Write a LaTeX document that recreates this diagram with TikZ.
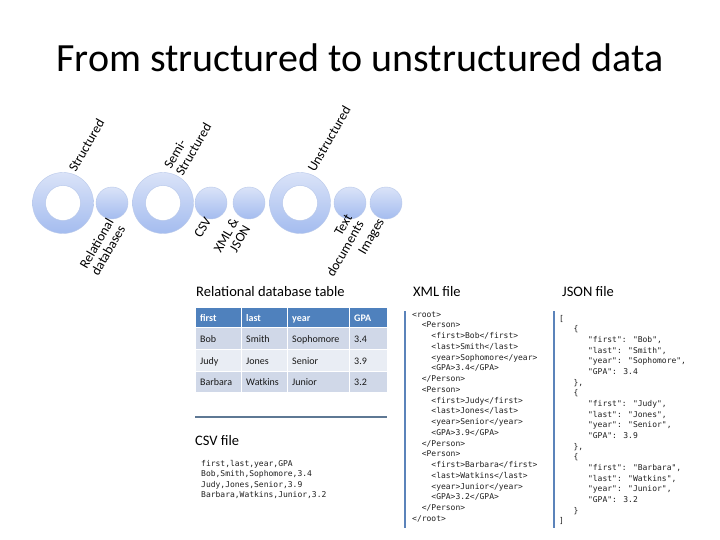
\documentclass[tikz,border=0pt]{standalone}
\usepackage{fontspec}
\setmainfont{Carlito}
\newfontfamily\codefont{DejaVu Sans Mono}
\definecolor{hdrblue}{HTML}{4F81BD}
\definecolor{rowA}{HTML}{D0D8E8}
\definecolor{rowB}{HTML}{E9EDF4}
\definecolor{ctop}{HTML}{DAE3F8}
\definecolor{cbot}{HTML}{A4BCEF}
\definecolor{cedge}{HTML}{B8C8EA}
\definecolor{rulec}{HTML}{5E7894}
\definecolor{barc}{HTML}{5B83BA}
\definecolor{codec}{HTML}{202020}
\newcommand\iA{\phantom{xx}}
\newcommand\iB{\phantom{xxxx}}
\newcommand\jA{\phantom{xxx}}
\newcommand\jB{\phantom{xxxxxx}}
\begin{document}
\begin{tikzpicture}[x=1pt,y=-1pt,
  ringshade/.style={top color=ctop,bottom color=cbot,draw=cedge,line width=0.4pt,even odd rule},
  dotshade/.style={top color=ctop,bottom color=cbot,draw=cedge,line width=0.4pt},
  lbl/.style={font=\fontsize{13.5}{13.5}\selectfont,inner sep=0pt,rotate=60},
  hd/.style={font=\fontsize{14.5}{17}\selectfont,inner sep=0pt,anchor=base west},
  cell/.style={draw=white,line width=1pt},
  ctext/.style={font=\fontsize{10}{12}\selectfont,inner sep=0pt,anchor=base west,text=black!90},
  htext/.style={font=\fontsize{10}{12}\selectfont\bfseries,inner sep=0pt,anchor=base west,text=white},
  code/.style={font=\codefont\fontsize{8}{10}\selectfont,inner sep=0pt,anchor=base west,text=codec},
  bar/.style={draw=barc,line width=2pt}]
\useasboundingbox (0,0) rectangle (720,540);
\fill[white] (0,0) rectangle (720,540);

% title
\node[font=\fontsize{40}{48}\selectfont,inner sep=0pt,anchor=base] (title) at (360,72) {From structured to unstructured data};

% timeline circles
\shade[ringshade] (63,203) circle[radius=30.5pt] (63,203) circle[radius=17.5pt];
\shade[dotshade] (112,203) circle[radius=16pt];
\shade[ringshade] (163,203) circle[radius=30.5pt] (163,203) circle[radius=17.5pt];
\shade[dotshade] (211,203) circle[radius=16pt];
\shade[dotshade] (249,203) circle[radius=16pt];
\shade[ringshade] (300,203) circle[radius=30.5pt] (300,203) circle[radius=17.5pt];
\shade[dotshade] (350,203) circle[radius=16pt];
\shade[dotshade] (386,203) circle[radius=16pt];

% labels above
\node[lbl,anchor=south west] (lstr) at (76,173) {Structured};
\node[lbl,anchor=south west,align=left] (lsemi) at (183,177) {Semi-\\Structured};
\node[lbl,anchor=south west] (lunstr) at (315,173) {Unstructured};
% labels below
\node[lbl,anchor=north east,align=right] (lrel) at (106,217) {Relational\\databases};
\node[lbl,anchor=north east] (lcsv) at (204,216) {CSV};
\node[lbl,anchor=north east,align=right] (lxml) at (231,217) {XML \&\\JSON};
\node[lbl,anchor=north east,align=right] (ltxt) at (345,213) {Text\\documents};
\node[lbl,anchor=north east] (limg) at (377,217) {Images};

% headings
\node[hd] (hrel) at (196,296) {Relational database table};
\node[hd] (hxml) at (413,296) {XML file};
\node[hd] (hjson) at (562,296) {JSON file};
\node[hd] (hcsv) at (195,445) {CSV file};

% table
\foreach \xa/\xb in {195/241,241/287,287/349,349/387}{
  \path[cell,fill=hdrblue] (\xa,307) rectangle (\xb,327);
  \path[cell,fill=rowA] (\xa,327) rectangle (\xb,349);
  \path[cell,fill=rowB] (\xa,349) rectangle (\xb,371);
  \path[cell,fill=rowA] (\xa,371) rectangle (\xb,392);
}
\node[htext] (h1) at (200,321) {first};
\node[htext] (h2) at (246,321) {last};
\node[htext] (h3) at (292,321) {year};
\node[htext] (h4) at (354,321) {GPA};
\node[ctext] (r11) at (200,342) {Bob};
\node[ctext] (r12) at (246,342) {Smith};
\node[ctext] (r13) at (292,342) {Sophomore};
\node[ctext] (r14) at (354,342) {3.4};
\node[ctext] (r21) at (200,364) {Judy};
\node[ctext] (r22) at (246,364) {Jones};
\node[ctext] (r23) at (292,364) {Senior};
\node[ctext] (r24) at (354,364) {3.9};
\node[ctext] (r31) at (200,385) {Barbara};
\node[ctext] (r32) at (246,385) {Watkins};
\node[ctext] (r33) at (292,385) {Junior};
\node[ctext] (r34) at (354,385) {3.2};

% separator rule
\draw[rulec,line width=2.7pt] (195,417) -- (387,417);

% CSV text
\foreach \t [count=\i] in {{first,last,year,GPA},{Bob,Smith,Sophomore,3.4},{Judy,Jones,Senior,3.9},{Barbara,Watkins,Junior,3.2}}
  \node[code] (csv\i) at (201,{466+(\i-1)*10.5}) {\t};

% XML
\draw[bar] (405,311) -- (405,528);
\foreach \t [count=\i] in {
  {<root>},
  {\iA<Person>},
  {\iB<first>Bob</first>},
  {\iB<last>Smith</last>},
  {\iB<year>Sophomore</year>},
  {\iB<GPA>3.4</GPA>},
  {\iA</Person>},
  {\iA<Person>},
  {\iB<first>Judy</first>},
  {\iB<last>Jones</last>},
  {\iB<year>Senior</year>},
  {\iB<GPA>3.9</GPA>},
  {\iA</Person>},
  {\iA<Person>},
  {\iB<first>Barbara</first>},
  {\iB<last>Watkins</last>},
  {\iB<year>Junior</year>},
  {\iB<GPA>3.2</GPA>},
  {\iA</Person>},
  {</root>}}
  \node[code] (xml\i) at (412,{317+(\i-1)*10.75}) {\t};

% JSON
\draw[bar] (554,311) -- (554,528);
\foreach \t [count=\i] in {
  {[},
  {\jA\{},
  {\jB"first": "Bob",},
  {\jB"last": "Smith",},
  {\jB"year": "Sophomore",},
  {\jB"GPA": 3.4},
  {\jA\},},
  {\jA\{},
  {\jB"first": "Judy",},
  {\jB"last": "Jones",},
  {\jB"year": "Senior",},
  {\jB"GPA": 3.9},
  {\jA\},},
  {\jA\{},
  {\jB"first": "Barbara",},
  {\jB"last": "Watkins",},
  {\jB"year": "Junior",},
  {\jB"GPA": 3.2},
  {\jA\}},
  {]}}
  \node[code] (json\i) at (559,{321+(\i-1)*10.68}) {\t};
\end{tikzpicture}
\end{document}
